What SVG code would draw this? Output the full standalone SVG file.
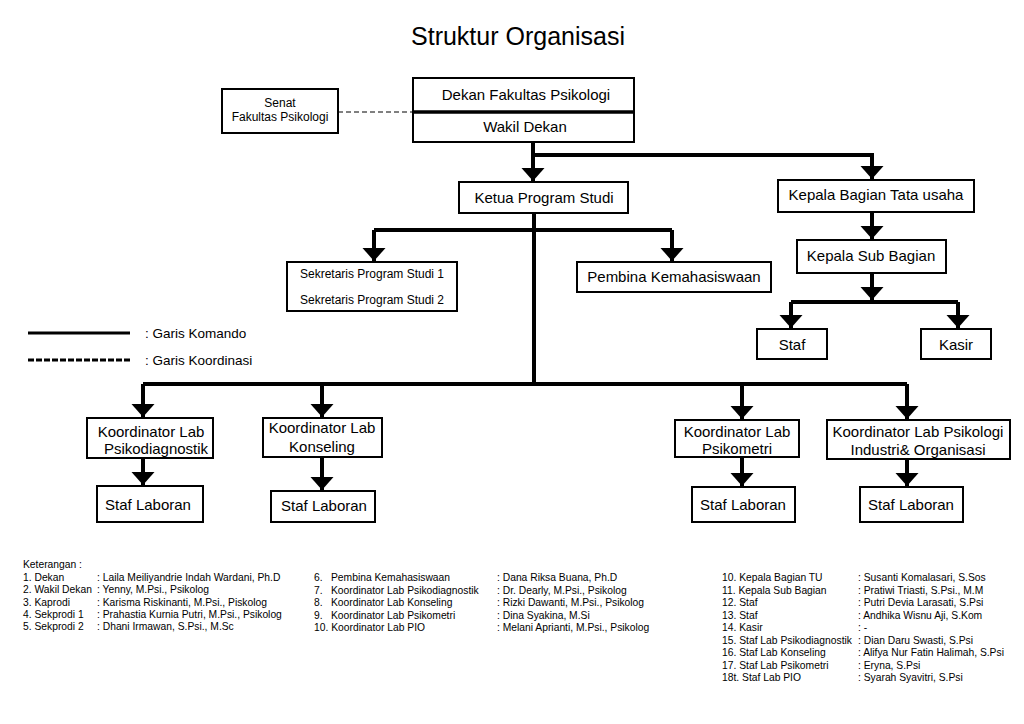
<svg xmlns="http://www.w3.org/2000/svg" width="1024" height="724" viewBox="0 0 1024 724">
<defs>
<style>
.box{fill:#fff;stroke:#000;stroke-width:2}
.t{font-family:"Liberation Sans",Arial,sans-serif;fill:#000;text-anchor:middle}
.n{font-size:15px}
.s{font-size:12px}
.k{font-family:"Liberation Sans",Arial,sans-serif;font-size:10.3px;fill:#000}
.c{fill:none;stroke:#000;stroke-width:4}
</style>
<marker id="arr" markerUnits="userSpaceOnUse" markerWidth="14" markerHeight="24" viewBox="0 -12 14 24" refX="13" refY="0" orient="auto">
<path d="M0,-11.5 L13,0 L0,11.5 Z" fill="#000"/>
</marker>
</defs>
<rect width="1024" height="724" fill="#fff"/>
<text class="t" x="518" y="45" font-size="25">Struktur Organisasi</text>

<g id="connectors">
<line x1="338" y1="112" x2="413" y2="112" stroke="#000" stroke-width="1" stroke-dasharray="5,3"/>
<path class="c" d="M533,142 V181" marker-end="url(#arr)"/>
<path class="c" d="M533,155 H872 V179" marker-end="url(#arr)"/>
<path class="c" d="M534,213 V384"/>
<path class="c" d="M374,230 H672"/>
<path class="c" d="M374,230 V261" marker-end="url(#arr)"/>
<path class="c" d="M672,230 V261" marker-end="url(#arr)"/>
<path class="c" d="M872,212 V239" marker-end="url(#arr)"/>
<path class="c" d="M872,273 V300" marker-end="url(#arr)"/>
<path class="c" d="M791,302 H958"/>
<path class="c" d="M791,302 V328" marker-end="url(#arr)"/>
<path class="c" d="M958,302 V328" marker-end="url(#arr)"/>
<path class="c" d="M143,384 H907"/>
<path class="c" d="M143,384 V417" marker-end="url(#arr)"/>
<path class="c" d="M322,384 V417" marker-end="url(#arr)"/>
<path class="c" d="M742,384 V419" marker-end="url(#arr)"/>
<path class="c" d="M907,384 V419" marker-end="url(#arr)"/>
<path class="c" d="M143,458 V485" marker-end="url(#arr)"/>
<path class="c" d="M322,457 V490" marker-end="url(#arr)"/>
<path class="c" d="M742,457 V486" marker-end="url(#arr)"/>
<path class="c" d="M907,459 V486" marker-end="url(#arr)"/>
</g>

<g id="dekan">
<rect class="box" x="413" y="78" width="221" height="64"/>
<line x1="413" y1="112" x2="634" y2="112" stroke="#000" stroke-width="3.5"/>
<text class="t n" x="526" y="100">Dekan Fakultas Psikologi</text>
<text class="t n" x="525" y="132">Wakil Dekan</text>
</g>
<g id="senat">
<rect class="box" x="222" y="89" width="116" height="44"/>
<text class="t s" x="280" y="107">Senat</text>
<text class="t s" x="280" y="121">Fakultas Psikologi</text>
</g>
<g id="ketua">
<rect class="box" x="459" y="182" width="169" height="31"/>
<text class="t n" x="544" y="203">Ketua Program Studi</text>
</g>
<g id="tatausaha">
<rect class="box" x="778" y="180" width="196" height="32"/>
<text class="t n" x="876" y="199.5">Kepala Bagian Tata usaha</text>
</g>
<g id="subbagian">
<rect class="box" x="797" y="240" width="149" height="33"/>
<text class="t n" x="871" y="261">Kepala Sub Bagian</text>
</g>
<g id="staf">
<rect class="box" x="757" y="329" width="70" height="30"/>
<text class="t n" x="792" y="349.5">Staf</text>
</g>
<g id="kasir">
<rect class="box" x="921" y="329" width="70" height="30"/>
<text class="t n" x="956" y="349.5">Kasir</text>
</g>
<g id="sekretaris">
<rect class="box" x="287" y="262" width="170" height="49"/>
<text class="t s" x="372" y="278">Sekretaris Program Studi 1</text>
<text class="t s" x="372" y="304">Sekretaris Program Studi 2</text>
</g>
<g id="pembina">
<rect class="box" x="577" y="262" width="194" height="30"/>
<text class="t n" x="674" y="282">Pembina Kemahasiswaan</text>
</g>

<g id="legend">
<line x1="28" y1="333" x2="130" y2="333" stroke="#000" stroke-width="3"/>
<line x1="28" y1="360" x2="130" y2="360" stroke="#000" stroke-width="3" stroke-dasharray="6,2"/>
<text font-family="Liberation Sans,Arial,sans-serif" font-size="13.5" x="145" y="338">: Garis Komando</text>
<text font-family="Liberation Sans,Arial,sans-serif" font-size="13.5" x="145" y="365">: Garis Koordinasi</text>
</g>

<g id="lab-psikodiagnostik">
<rect class="box" x="87" y="418" width="126" height="40"/>
<text class="t n" x="151" y="436.5">Koordinator Lab</text>
<text class="t n" x="156" y="453.5">Psikodiagnostik</text>
</g>
<g id="lab-konseling">
<rect class="box" x="263" y="418" width="119" height="39"/>
<text class="t n" x="322" y="432.5">Koordinator Lab</text>
<text class="t n" x="322" y="451.5">Konseling</text>
</g>
<g id="lab-psikometri">
<rect class="box" x="675" y="420" width="124" height="37"/>
<text class="t n" x="737" y="437">Koordinator Lab</text>
<text class="t n" x="737" y="454">Psikometri</text>
</g>
<g id="lab-pio">
<rect class="box" x="827" y="420" width="183" height="39"/>
<text class="t n" x="918" y="437">Koordinator Lab Psikologi</text>
<text class="t n" x="918" y="454.5">Industri&amp; Organisasi</text>
</g>
<g id="staf-laboran-1">
<rect class="box" x="97" y="486" width="106" height="36"/>
<text class="t n" x="148" y="510">Staf Laboran</text>
</g>
<g id="staf-laboran-2">
<rect class="box" x="271" y="491" width="104" height="31"/>
<text class="t n" x="324" y="511">Staf Laboran</text>
</g>
<g id="staf-laboran-3">
<rect class="box" x="692" y="487" width="103" height="35"/>
<text class="t n" x="743" y="510">Staf Laboran</text>
</g>
<g id="staf-laboran-4">
<rect class="box" x="860" y="487" width="103" height="35"/>
<text class="t n" x="911" y="510">Staf Laboran</text>
</g>

<g id="keterangan">
<text class="k" x="23" y="568">Keterangan :</text>
<text class="k" x="23" y="581">1. Dekan</text><text class="k" x="97" y="581">: Laila Meiliyandrie Indah Wardani, Ph.D</text>
<text class="k" x="23" y="593">2. Wakil Dekan</text><text class="k" x="97" y="593">: Yenny, M.Psi., Psikolog</text>
<text class="k" x="23" y="605.5">3. Kaprodi</text><text class="k" x="97" y="605.5">: Karisma Riskinanti, M.Psi., Piskolog</text>
<text class="k" x="23" y="617.5">4. Sekprodi 1</text><text class="k" x="97" y="617.5">: Prahastia Kurnia Putri, M.Psi., Psikolog</text>
<text class="k" x="23" y="630">5. Sekprodi 2</text><text class="k" x="97" y="630">: Dhani Irmawan, S.Psi., M.Sc</text>

<text class="k" x="314" y="581">6.</text><text class="k" x="331" y="581">Pembina Kemahasiswaan</text><text class="k" x="497" y="581">: Dana Riksa Buana, Ph.D</text>
<text class="k" x="314" y="593.5">7.</text><text class="k" x="331" y="593.5">Koordinator Lab Psikodiagnostik</text><text class="k" x="497" y="593.5">: Dr. Dearly, M.Psi., Psikolog</text>
<text class="k" x="314" y="606">8.</text><text class="k" x="331" y="606">Koordinator Lab Konseling</text><text class="k" x="497" y="606">: Rizki Dawanti, M.Psi., Psikolog</text>
<text class="k" x="314" y="618.5">9.</text><text class="k" x="331" y="618.5">Koordinator Lab Psikometri</text><text class="k" x="497" y="618.5">: Dina Syakina, M.Si</text>
<text class="k" x="314" y="631">10. Koordinator Lab PIO</text><text class="k" x="497" y="631">: Melani Aprianti, M.Psi., Psikolog</text>

<text class="k" x="722" y="581">10. Kepala Bagian TU</text><text class="k" x="858" y="581">: Susanti Komalasari, S.Sos</text>
<text class="k" x="722" y="593.5">11. Kepala Sub Bagian</text><text class="k" x="858" y="593.5">: Pratiwi Triasti, S.Psi., M.M</text>
<text class="k" x="722" y="606">12. Staf</text><text class="k" x="858" y="606">: Putri Devia Larasati, S.Psi</text>
<text class="k" x="722" y="618.5">13. Staf</text><text class="k" x="858" y="618.5">: Andhika Wisnu Aji, S.Kom</text>
<text class="k" x="722" y="631">14. Kasir</text><text class="k" x="858" y="631">: -</text>
<text class="k" x="722" y="643.5">15. Staf Lab Psikodiagnostik</text><text class="k" x="858" y="643.5">: Dian Daru Swasti, S.Psi</text>
<text class="k" x="722" y="656">16. Staf Lab Konseling</text><text class="k" x="858" y="656">: Alifya Nur Fatin Halimah, S.Psi</text>
<text class="k" x="722" y="668.5">17. Staf Lab Psikometri</text><text class="k" x="858" y="668.5">: Eryna, S.Psi</text>
<text class="k" x="722" y="681">18t. Staf Lab PIO</text><text class="k" x="858" y="681">: Syarah Syavitri, S.Psi</text>
</g>
</svg>
